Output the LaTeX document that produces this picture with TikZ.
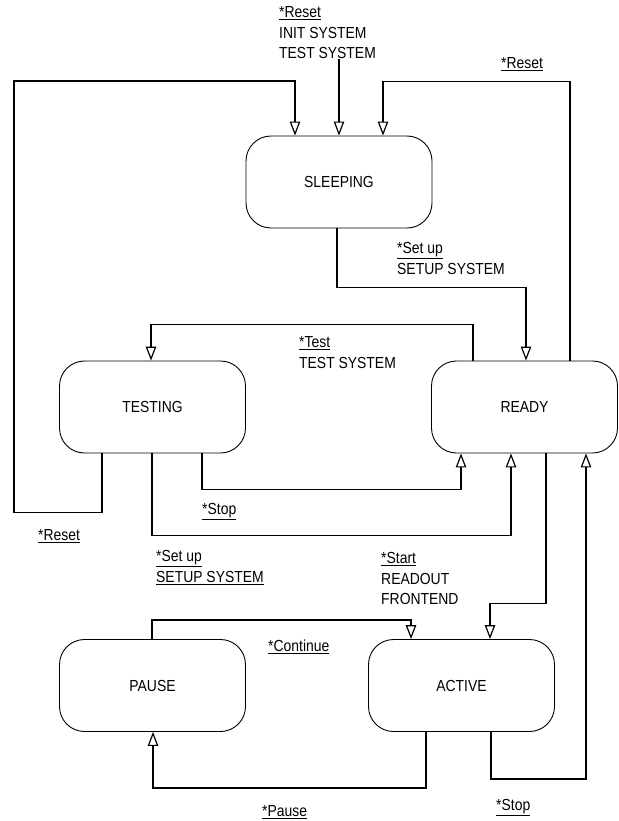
\documentclass[tikz,border=0pt]{standalone}
\usepackage{fontspec}
\setmainfont{Liberation Sans}[FakeStretch=0.87]
\usetikzlibrary{arrows.meta}
\usetikzlibrary{positioning}
\tikzset{state/.style = {draw, line width=0.9pt, rounded corners=25pt,
                         minimum width=186pt, minimum height=92pt}}
\tikzset{arr/.style = {line width=1.2pt, -{Triangle[open, width=10.5pt, length=14pt]}}}
\tikzset{lbl/.style = {anchor=north west, inner sep=0, align=left}}

\begin{document}
\begin{tikzpicture}[x=1pt, y=-1pt, font=\fontsize{16}{20.5}\selectfont]
      \useasboundingbox (0, 0) rectangle (618, 821);

      \node [state] (sleeping) at (339, 182) {SLEEPING};
      \node [state] (testing) at (152.5, 407) {TESTING};
      \node [state] (ready) at (524.5, 407) {READY};
      \node [state] (pause) at (152.5, 685.5) {PAUSE};
      \node [state] (active) at (461.5, 685.5) {ACTIVE};

      \node [lbl] (initlbl) at (279, 6.5) {\underline{*Reset}\\INIT SYSTEM\\TEST SYSTEM};
      \node [lbl] (rstlbl) at (501, 57.5) {\underline{*Reset}};
      \node [lbl] (setuplbl) at (397, 242.5) {\underline{*Set up}\\SETUP SYSTEM};
      \node [lbl] (testlbl) at (299, 336.5) {\underline{*Test}\\TEST SYSTEM};
      \node [lbl] (stoplbl) at (202, 503.5) {\underline{*Stop}};
      \node [lbl] (rstlbltwo) at (38, 529.5) {\underline{*Reset}};
      \node [lbl] (setuplbltwo) at (156, 550.5) {\underline{*Set up}\\\underline{SETUP SYSTEM}};
      \node [lbl] (startlbl) at (381, 552.5) {\underline{*Start}\\READOUT\\FRONTEND};
      \node [lbl] (contlbl) at (268, 639.5) {\underline{*Continue}};
      \node [lbl] (stoplbltwo) at (496, 799.5) {\underline{*Stop}};
      \node [lbl] (pauselbl) at (262, 805.5) {\underline{*Pause}};

      \draw [arr] (initlbl.south -| sleeping.north) -- (sleeping.north);
      \draw [arr] ([xshift=-50.5pt]testing.south) -- ++(0, 59) -| (14, 81) -| ([xshift=-44pt]sleeping.north);
      \draw [arr] ([xshift=45.5pt]ready.north) -- ++(0, -279) -| ([xshift=44pt]sleeping.north);
      \draw [arr] ([xshift=-2pt]sleeping.south) -- ++(0, 59) -| ([xshift=1.5pt]ready.north);
      \draw [arr] ([xshift=-51.5pt]ready.north) -- ++(0, -36) -| ([xshift=-1.5pt]testing.north);
      \draw [arr] ([xshift=49.5pt]testing.south) -- ++(0, 36) -| ([xshift=-63.5pt]ready.south);
      \draw [arr] ([xshift=-0.5pt]testing.south) -- ++(0, 82) -| ([xshift=-13.5pt]ready.south);
      \draw [arr] ([xshift=21.5pt]ready.south) -- ++(0, 150) -| ([xshift=28.5pt]active.north);
      \draw [arr] ([xshift=29.5pt]active.south) -- ++(0, 47) -| ([xshift=61.5pt]ready.south);
      \draw [arr] ([xshift=-0.5pt]pause.north) -- ++(0, -19) -| ([xshift=-50.5pt]active.north);
      \draw [arr] ([xshift=-35.5pt]active.south) -- ++(0, 56) -| ([xshift=0.5pt]pause.south);
\end{tikzpicture}
\end{document}
